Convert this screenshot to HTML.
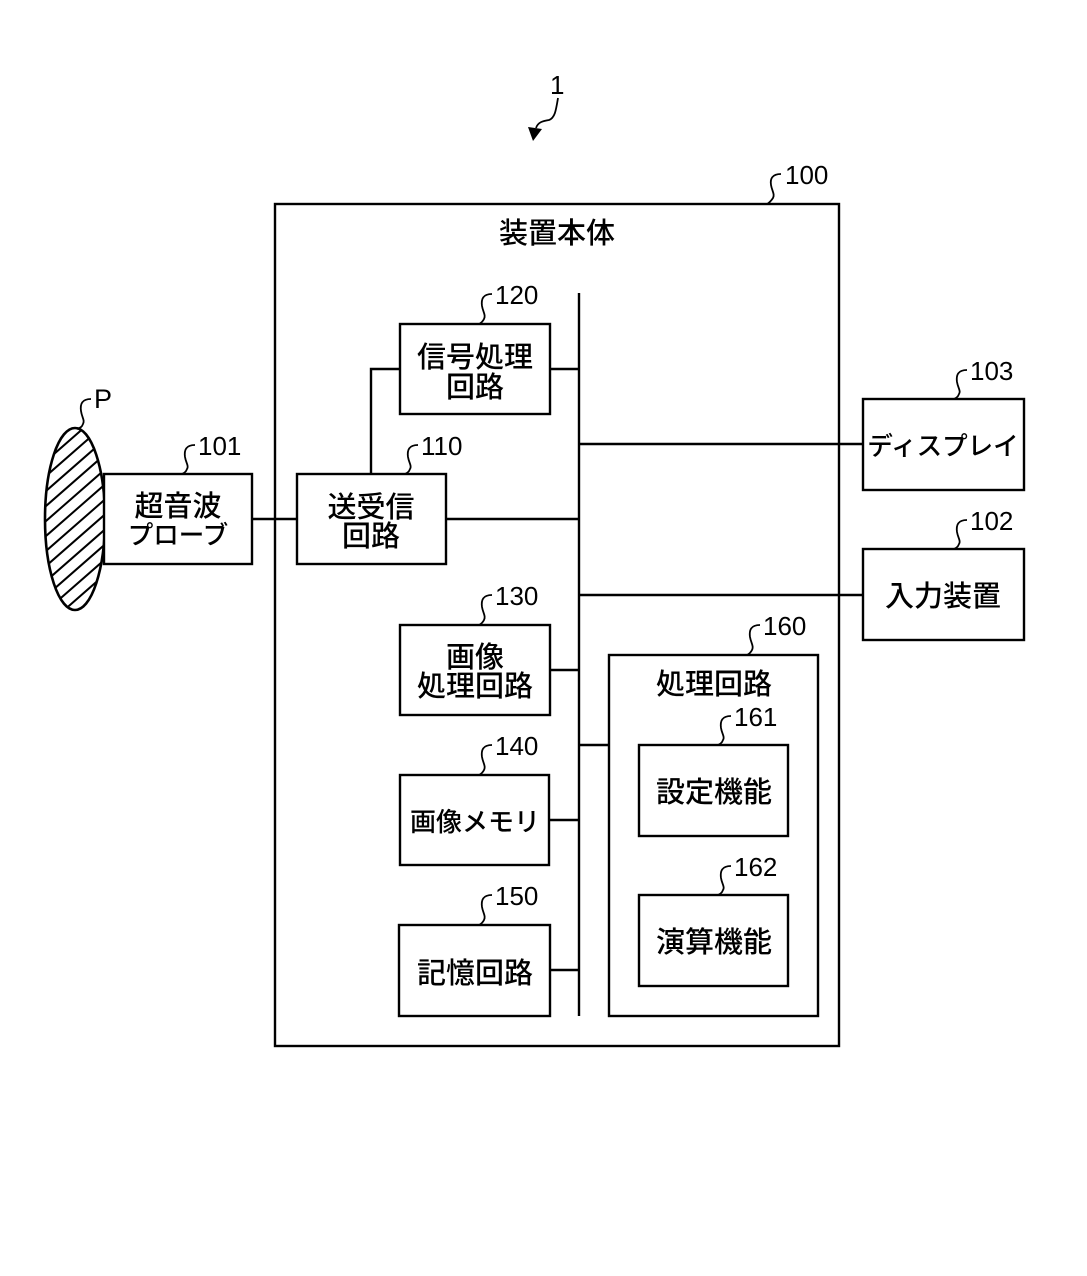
<!DOCTYPE html>
<html lang="ja">
<head>
<meta charset="utf-8">
<style>
html,body{margin:0;padding:0;background:#fff}
svg{display:block}
text{font-family:"Liberation Sans","Noto Sans CJK JP",sans-serif;fill:#000}
.j{font-size:29px;text-anchor:middle;font-weight:500}
.k{font-size:25.5px;text-anchor:middle;font-weight:500}
.n{font-size:26px}
.b{fill:#fff;stroke:#000;stroke-width:2.4}
.l{fill:none;stroke:#000;stroke-width:2.4}
.c{fill:none;stroke:#000;stroke-width:1.8}
</style>
</head>
<body>
<svg xmlns="http://www.w3.org/2000/svg" width="1087" height="1276" viewBox="0 0 1087 1276">
<rect width="1087" height="1276" fill="#fff"/>
<defs>
<clipPath id="e"><ellipse cx="75" cy="519" rx="30" ry="91"/></clipPath>
</defs>

<!-- Subject P -->
<g clip-path="url(#e)" stroke="#000" stroke-width="2">
<path d="M30 445L110 375M30 460L110 390M30 475L110 405M30 490L110 420M30 505L110 435M30 520L110 450M30 535L110 465M30 550L110 480M30 565L110 495M30 580L110 510M30 595L110 525M30 610L110 540M30 625L110 555M30 640L110 570M30 655L110 585M30 670L110 600M30 685L110 615M30 700L110 630"/>
</g>
<ellipse cx="75" cy="519" rx="30" ry="91" fill="none" stroke="#000" stroke-width="2.6"/>
<path class="c" d="M91 399C82 399 80 404 81 411C82 418 85 420 83 424C82 427 80 428 77 429"/>
<text class="n" x="94" y="408" style="font-size:27px">P</text>

<!-- Reference 1 -->
<text class="n" x="550" y="94" style="font-size:26px">1</text>
<path class="c" d="M558 98C556 110 555 118 549 120C543 121 538 122 536 128"/>
<path d="M528 127L542 129L533 141Z" fill="#000"/>

<!-- Main body -->
<rect class="b" x="275" y="204" width="564" height="842"/>
<text class="j" x="557" y="243">装置本体</text>
<path class="c" d="M781 174C772 174 770 179 771 185C772 191 775 194 773 198C771 201 769 203 767 204"/>
<text class="n" x="785" y="184">100</text>

<!-- Connectors -->
<path class="l" d="M579 293V1016M550 369H579M371 474V369H400M446 519H579M252 519H297M579 444H863M579 595H863M550 670H579M579 745H609M550 820H579M550 970H579"/>

<!-- Probe -->
<rect class="b" x="104" y="474" width="148" height="90"/>
<text class="j" x="178" y="516">超音波</text>
<text class="k" x="178" y="544">プローブ</text>
<path class="c" d="M195 445C186 445 184 450 185 457C186 463 189 466 187 469C186 472 184 473 182 474"/>
<text class="n" x="198" y="455">101</text>

<!-- 110 -->
<rect class="b" x="297" y="474" width="149" height="90"/>
<text class="j" x="371" y="517">送受信</text>
<text class="j" x="371" y="546">回路</text>
<path class="c" d="M418 445C409 445 407 450 408 457C409 463 412 466 410 469C409 472 407 473 405 474"/>
<text class="n" x="421" y="455">110</text>

<!-- 120 -->
<rect class="b" x="400" y="324" width="150" height="90"/>
<text class="j" x="475" y="367">信号処理</text>
<text class="j" x="475" y="397">回路</text>
<path class="c" d="M492 294C483 294 481 299 482 306C483 312 486 315 484 319C483 321 481 323 479 324"/>
<text class="n" x="495" y="304">120</text>

<!-- 130 -->
<rect class="b" x="400" y="625" width="150" height="90"/>
<text class="j" x="475" y="667">画像</text>
<text class="j" x="475" y="696">処理回路</text>
<path class="c" d="M492 595C483 595 481 600 482 607C483 613 486 616 484 620C483 622 481 624 479 625"/>
<text class="n" x="495" y="605">130</text>

<!-- 140 -->
<rect class="b" x="400" y="775" width="149" height="90"/>
<text class="k" x="475" y="831" style="font-size:26px">画像メモリ</text>
<path class="c" d="M492 745C483 745 481 750 482 757C483 763 486 766 484 770C483 772 481 774 479 775"/>
<text class="n" x="495" y="755">140</text>

<!-- 150 -->
<rect class="b" x="399" y="925" width="151" height="91"/>
<text class="j" x="475" y="983">記憶回路</text>
<path class="c" d="M492 895C483 895 481 900 482 907C483 913 486 916 484 920C483 922 481 924 479 925"/>
<text class="n" x="495" y="905">150</text>

<!-- 160 -->
<rect class="b" x="609" y="655" width="209" height="361"/>
<text class="j" x="714" y="694">処理回路</text>
<path class="c" d="M760 625C751 625 749 630 750 637C751 643 754 646 752 650C751 652 749 654 747 655"/>
<text class="n" x="763" y="635">160</text>

<!-- 161 -->
<rect class="b" x="639" y="745" width="149" height="91"/>
<text class="j" x="714" y="802">設定機能</text>
<path class="c" d="M731 716C722 716 720 721 721 728C722 734 725 737 723 740C722 743 720 744 718 745"/>
<text class="n" x="734" y="726">161</text>

<!-- 162 -->
<rect class="b" x="639" y="895" width="149" height="91"/>
<text class="j" x="714" y="952">演算機能</text>
<path class="c" d="M731 866C722 866 720 871 721 878C722 884 725 887 723 890C722 893 720 894 718 895"/>
<text class="n" x="734" y="876">162</text>

<!-- 103 -->
<rect class="b" x="863" y="399" width="161" height="91"/>
<text class="k" x="943" y="455">ディスプレイ</text>
<path class="c" d="M967 370C958 370 956 375 957 382C958 388 961 391 959 394C958 397 956 398 954 399"/>
<text class="n" x="970" y="380">103</text>

<!-- 102 -->
<rect class="b" x="863" y="549" width="161" height="91"/>
<text class="j" x="943" y="606">入力装置</text>
<path class="c" d="M967 520C958 520 956 525 957 532C958 538 961 541 959 544C958 547 956 548 954 549"/>
<text class="n" x="970" y="530">102</text>
</svg>
</body>
</html>
